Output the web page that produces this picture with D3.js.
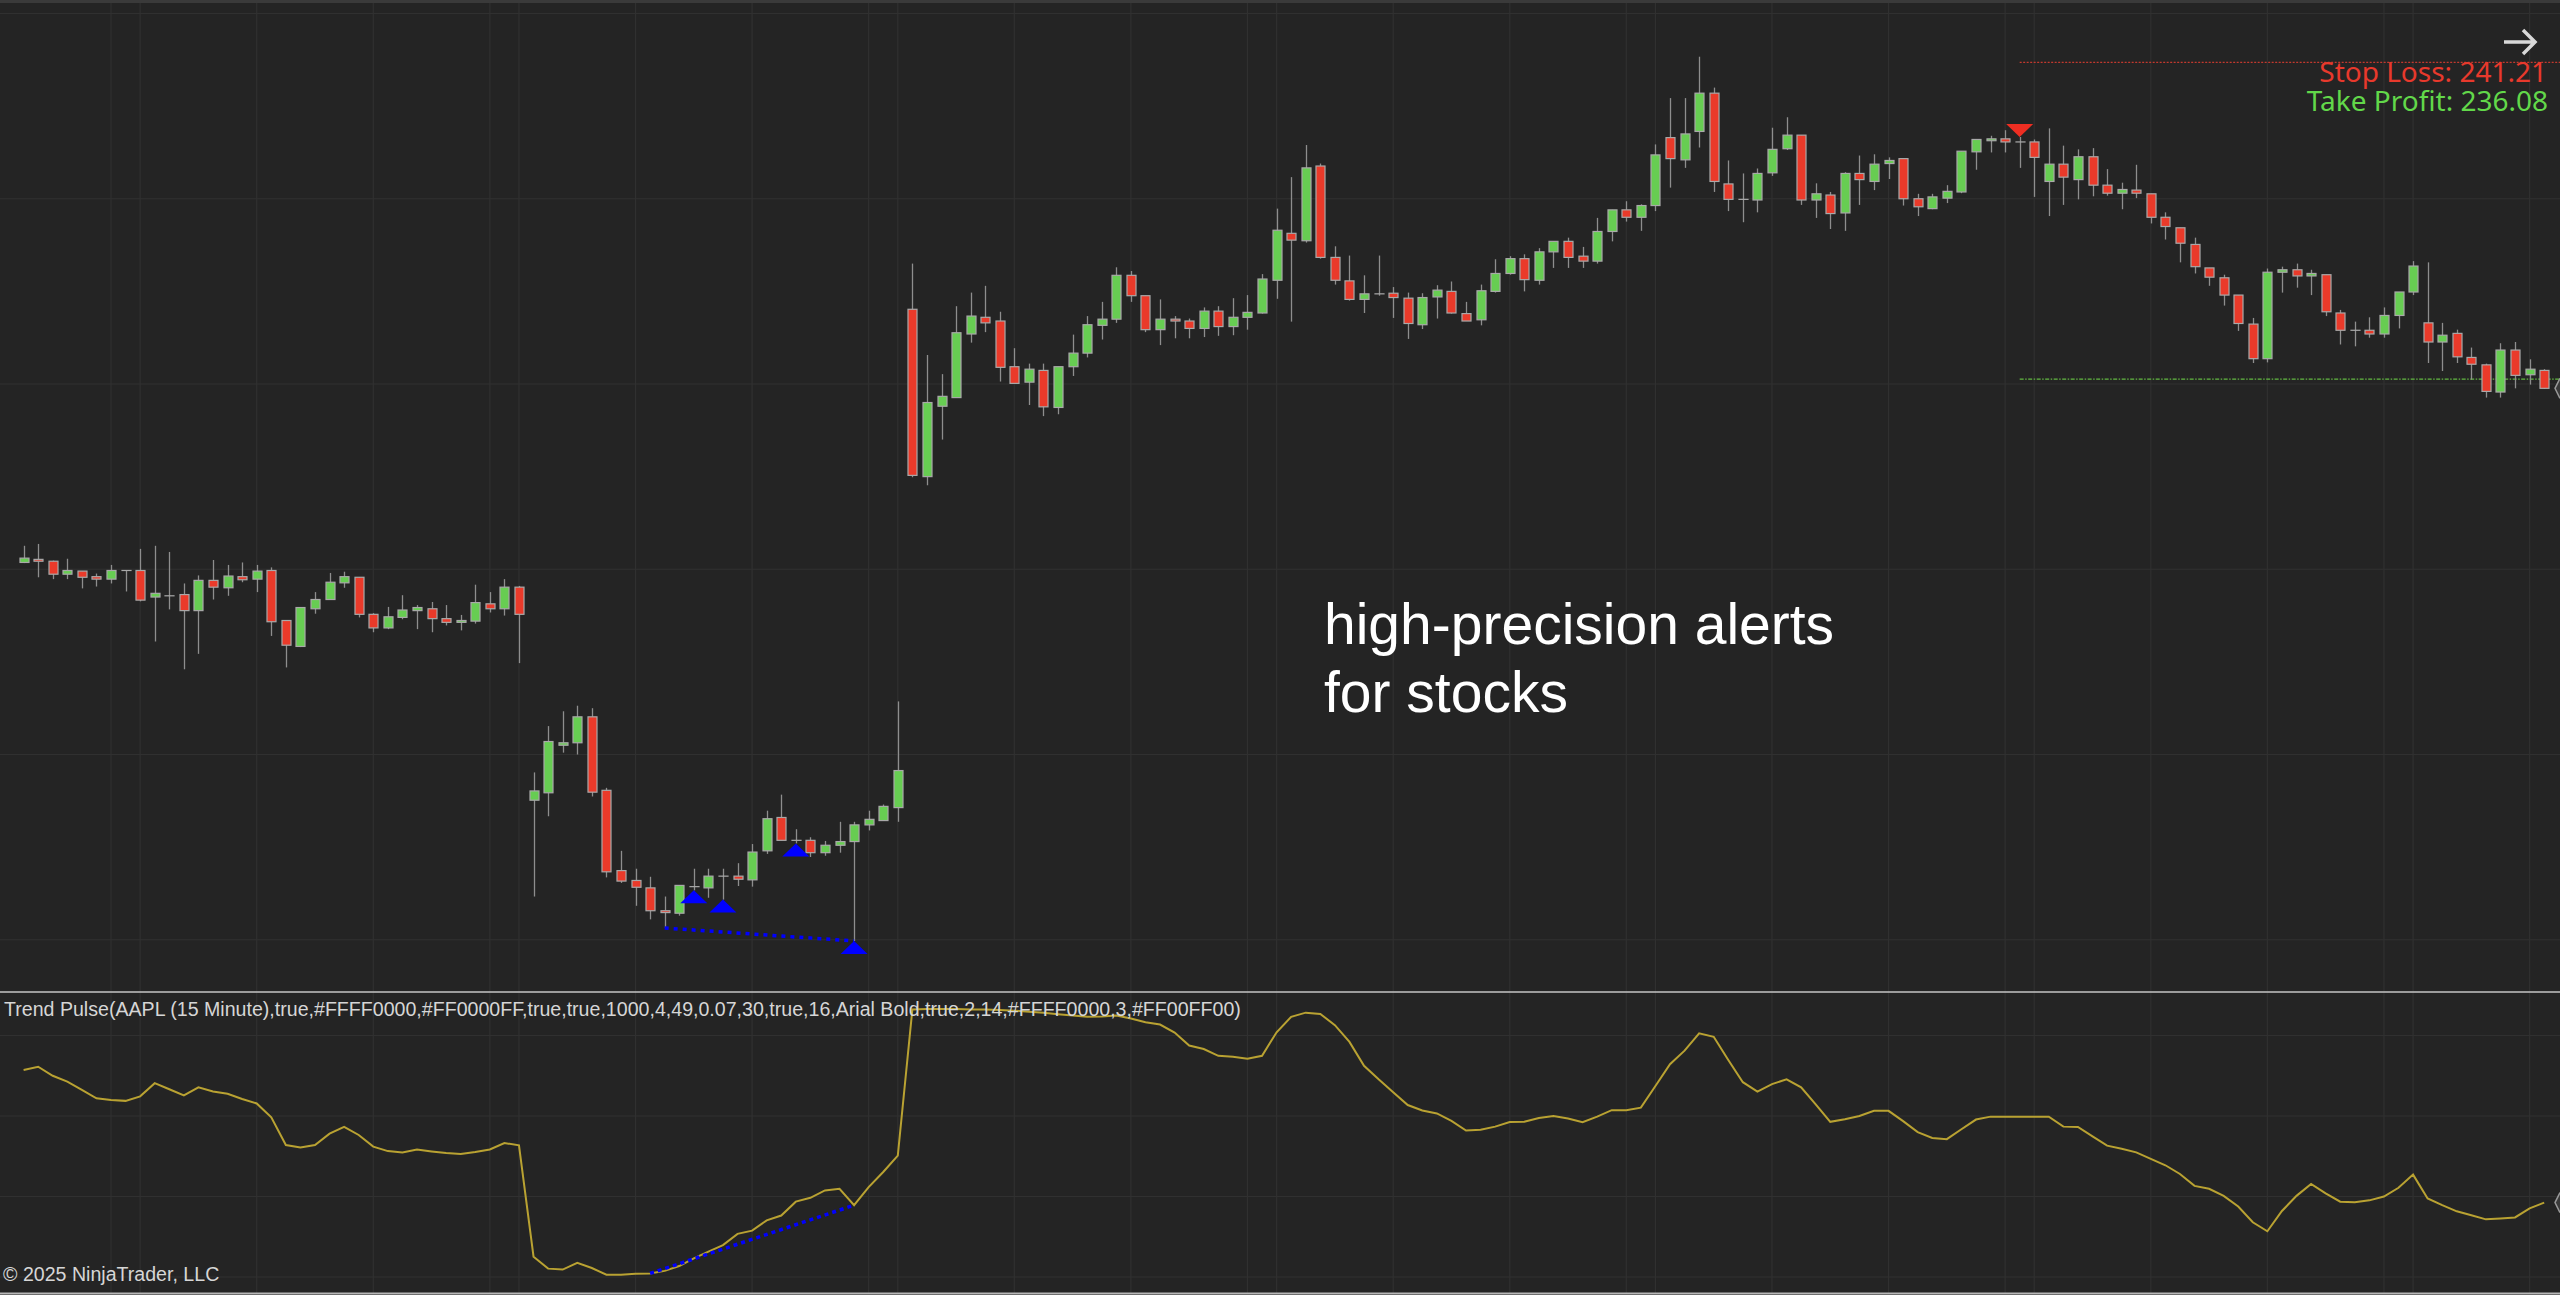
<!DOCTYPE html>
<html><head><meta charset="utf-8">
<script src="https://cdn.jsdelivr.net/npm/d3@7"></script>
<style>html,body{margin:0;padding:0;background:#242424;overflow:hidden}</style>
</head><body>
<svg id="c" width="2560" height="1295"></svg>
<script>
// ---- data (AAPL 15 minute bars) ----
const opens = [233.11,233.16,233.13,232.92,232.97,232.88,232.84,232.98,232.98,232.55,232.57,232.59,232.33,232.82,232.70,232.88,232.84,232.98,232.17,231.75,232.36,232.51,232.78,232.87,232.27,232.05,232.22,232.33,232.36,232.20,232.14,232.16,232.44,232.36,232.71,
229.26,229.38,230.15,230.19,230.61,229.42,228.12,227.96,227.84,227.47,227.43,227.86,227.84,228.03,228.03,227.97,228.44,228.98,228.61,228.61,228.41,228.53,228.59,228.86,228.93,229.14,
237.21,234.50,235.64,235.78,236.81,237.08,237.02,236.28,236.03,236.22,235.62,236.28,236.50,236.95,237.05,237.76,237.43,236.88,237.05,237.02,236.90,237.18,236.93,237.08,237.15,237.68,
238.44,238.32,239.53,238.05,237.67,237.37,237.46,237.47,237.39,236.96,237.41,237.50,237.14,237.04,237.50,237.79,238.03,237.68,238.14,238.31,238.07,237.99,238.47,238.82,238.70,238.89,
239.99,239.63,240.09,240.71,239.24,238.99,238.98,239.42,239.81,240.03,238.98,239.06,238.77,239.41,239.28,239.57,239.65,239.00,238.84,239.01,239.11,239.76,239.94,239.97,239.92,239.92,
239.28,239.56,239.31,239.68,239.22,239.09,239.14,239.08,238.70,238.53,238.26,237.88,237.72,237.44,236.97,236.41,237.81,237.85,237.75,237.77,237.15,236.87,236.87,236.81,237.11,237.49,
236.99,236.68,236.82,236.43,236.31,235.87,236.55,236.15,236.22];
const highs = [233.38,233.41,233.14,233.17,232.97,232.93,233.07,232.98,233.33,233.38,233.28,232.77,232.90,233.15,233.07,233.11,233.07,233.03,232.17,232.38,232.63,232.94,232.96,232.87,232.29,232.39,232.58,232.42,232.47,232.42,232.26,232.75,232.63,232.84,232.73,
229.71,230.46,230.70,230.79,230.75,229.46,228.44,228.15,228.02,227.70,227.88,228.15,228.15,228.15,228.24,228.55,229.09,229.35,228.79,228.66,228.60,228.91,228.91,229.09,229.19,230.86,
237.95,236.47,236.16,237.26,237.48,237.59,237.17,236.58,236.33,236.33,236.28,236.80,237.10,237.33,237.89,237.83,237.43,237.37,237.10,237.06,237.24,237.26,237.39,237.44,237.78,238.84,
239.35,239.87,239.57,238.23,238.08,237.76,238.08,237.57,237.48,237.47,237.60,237.66,237.33,237.61,238.02,238.07,238.10,238.20,238.31,238.37,238.22,238.69,238.82,238.96,238.91,239.88,
240.63,240.63,241.30,240.80,239.62,239.41,239.49,240.15,240.32,240.03,239.25,239.11,239.43,239.70,239.72,239.67,239.65,239.08,239.08,239.22,239.77,239.96,240.02,240.11,240.00,239.96,
240.14,239.86,239.80,239.82,239.48,239.26,239.55,239.08,238.78,238.53,238.37,237.88,237.77,237.44,237.07,237.87,237.90,237.95,237.85,237.77,237.20,237.01,237.08,237.24,237.49,237.99,
237.97,236.99,236.88,236.59,236.33,236.66,236.68,236.40,236.24];
const lows = [233.10,232.87,232.84,232.84,232.69,232.72,232.77,232.64,232.48,231.83,232.35,231.38,231.63,232.51,232.57,232.79,232.63,231.92,231.41,231.74,232.28,232.51,232.70,232.22,231.98,232.03,232.19,232.03,231.98,232.09,232.01,232.12,232.30,232.25,231.48,
227.70,229.00,230.03,230.00,229.32,228.01,227.92,227.55,227.33,227.19,227.39,227.80,227.68,227.65,227.87,227.86,228.39,228.61,228.56,228.34,228.36,228.41,226.98,228.77,228.93,228.91,
234.49,234.36,235.10,235.78,236.67,236.84,236.04,236.01,235.66,235.48,235.51,236.13,236.43,236.72,236.99,237.33,236.84,236.63,236.74,236.74,236.76,236.78,236.79,236.88,237.14,237.38,
237.01,238.29,238.03,237.61,237.35,237.15,237.43,237.07,236.73,236.89,237.06,237.14,237.02,236.95,237.48,237.77,237.50,237.61,237.88,237.88,237.88,237.95,238.31,238.63,238.48,238.80,
239.18,239.50,239.83,239.11,238.80,238.62,238.78,239.37,239.79,238.90,238.69,238.51,238.48,238.90,239.14,239.32,238.89,238.72,238.83,238.93,239.09,239.47,239.75,239.75,239.50,239.03,
238.72,238.90,238.99,239.04,239.05,238.83,239.01,238.60,238.34,237.97,237.79,237.59,237.27,236.86,236.34,236.35,237.48,237.56,237.44,237.10,236.64,236.61,236.75,236.75,236.90,237.44,
236.34,236.21,236.34,236.07,235.78,235.78,235.93,235.99,235.92];
const closes = [233.18,233.13,232.92,232.98,232.87,232.84,232.98,232.98,232.50,232.61,232.57,232.33,232.82,232.71,232.89,232.83,232.97,232.15,231.77,232.38,232.51,232.79,232.88,232.27,232.05,232.23,232.34,232.38,232.20,232.14,232.17,232.46,232.36,232.71,232.27,
229.41,230.21,230.19,230.61,229.39,228.10,227.95,227.85,227.47,227.44,227.88,227.86,228.03,228.03,227.98,228.42,228.96,228.61,228.61,228.41,228.53,228.59,228.86,228.95,229.16,229.74,
234.52,235.70,235.80,236.83,237.10,236.99,236.27,236.01,236.24,235.63,236.28,236.50,236.96,237.05,237.76,237.43,236.88,237.05,237.02,236.90,237.18,236.93,237.08,237.16,237.70,238.49,
238.33,239.50,238.05,237.68,237.37,237.46,237.46,237.40,236.98,237.40,237.52,237.15,237.02,237.51,237.79,238.03,237.69,238.14,238.31,238.05,237.99,238.47,238.82,238.70,238.89,239.71,
239.65,240.05,240.71,239.28,238.99,238.99,239.41,239.80,240.03,238.98,239.08,238.76,239.41,239.31,239.56,239.62,239.00,238.87,239.03,239.12,239.77,239.96,239.97,239.92,239.92,239.67,
239.56,239.35,239.68,239.22,239.09,239.15,239.09,238.70,238.55,238.28,237.90,237.73,237.44,236.98,236.41,237.81,237.85,237.75,237.79,237.17,236.87,236.87,236.81,237.11,237.49,237.91,
236.68,236.79,236.44,236.32,235.88,236.55,236.14,236.24,235.93];
// Trend Pulse oscillator
const pulse = [64.3,65.3,62.5,60.7,58.1,55.5,55.0,54.7,56.1,60.2,58.3,56.4,58.9,57.6,56.9,55.3,53.9,49.6,41.0,40.2,41.0,44.5,46.6,44.1,40.5,39.1,38.7,39.6,39.0,38.5,38.2,38.8,39.6,41.6,40.9,
6.3,2.6,2.3,4.4,2.8,0.7,0.7,1.0,1.1,1.9,3.4,5.8,7.9,9.9,13.4,14.4,17.6,19.1,23.4,24.6,26.9,27.4,22.3,27.9,32.6,37.7,
83.1,83.2,83.2,83.2,83.1,83.1,82.9,82.7,82.4,82.1,81.6,81.2,80.8,80.9,81.2,80.3,79.1,78.4,75.9,71.9,70.8,68.7,68.4,67.8,68.7,76.0,
80.8,82.1,81.7,78.2,73.0,65.6,61.4,57.4,53.4,51.7,50.8,48.5,45.5,45.7,46.7,48.1,48.2,49.4,50.0,49.2,48.1,49.8,51.8,51.8,52.6,59.3,
66.1,70.3,75.7,74.6,67.4,60.5,57.6,59.9,61.4,58.9,53.6,48.2,49.0,50.0,51.6,51.6,48.4,45.0,43.2,42.8,45.9,48.9,49.8,49.8,49.8,49.8,
49.8,46.7,46.6,43.7,40.8,39.8,38.7,36.7,34.7,32.0,28.3,27.4,25.2,21.9,17.0,14.2,20.5,25.2,28.9,26.0,23.4,23.2,23.8,25.0,27.7,31.8,
24.4,22.3,20.4,19.2,17.9,18.2,18.5,21.3,23.1];
const priceTicks = [227,230,233,236,239,242];
const pulseTicks = [0,25,50,75];
const gridBars = [6,8,16,24,32,34,42,50,58,60,68,76,84,86,94,102,110,112,120,128,136,138,146,154,162,164,172];
const buySignals = [46,48,53,57];
const sellSignals = [137];
const priceDivergence = [44,57];
const pulseDivergence = [43,57];
const stopLoss = 241.21, takeProfit = 236.08, levelStartBar = 137;
const labelText = "Trend Pulse(AAPL (15 Minute),true,#FFFF0000,#FF0000FF,true,true,1000,4,49,0.07,30,true,16,Arial Bold,true,2,14,#FFFF0000,3,#FF00FF00)";
const promoLines = ["high-precision alerts","for stocks"];

// ---- drawing ----
const W = 2560, H = 1295;
const svg = d3.select("#c");
const n = opens.length;
const x = d3.scaleLinear().domain([0, 173]).range([23.6, 2544.2]);
const y = d3.scaleLinear().domain([227, 242]).range([939.75, 13.5]);
const yi = d3.scaleLinear().domain([0, 75]).range([1277, 1035.5]);
const mainTop = 3, sep = 992, bottom = 1293;

svg.append("rect").attr("width", W).attr("height", H).attr("fill", "#242424");
svg.append("rect").attr("width", W).attr("height", 3).attr("fill", "#3a3a3a");

const grid = svg.append("g").attr("stroke", "#303030").attr("stroke-width", 1.2);
grid.selectAll(".vg").data(gridBars).join("line")
  .attr("x1", d => x(d)).attr("x2", d => x(d)).attr("y1", mainTop).attr("y2", bottom);
grid.selectAll(".hg").data(priceTicks).join("line").attr("class","hp")
  .attr("x1", 0).attr("x2", W).attr("y1", d => y(d)).attr("y2", d => y(d));
grid.selectAll(".hi").data(pulseTicks).join("line").attr("class","hi2")
  .attr("x1", 0).attr("x2", W).attr("y1", d => yi(d)).attr("y2", d => yi(d));

// stop loss / take profit levels
svg.append("line").attr("x1", x(levelStartBar)).attr("x2", W).attr("y1", y(stopLoss)).attr("y2", y(stopLoss))
  .attr("stroke", "#c2392e").attr("stroke-width", 1.3).attr("stroke-dasharray", "2,1.5");
svg.append("line").attr("x1", x(levelStartBar)).attr("x2", W).attr("y1", y(takeProfit)).attr("y2", y(takeProfit))
  .attr("stroke", "#62b842").attr("stroke-width", 1.3).attr("stroke-dasharray", "4,1.5,1.5,1.5");

// candles
const bars = d3.range(n).map(i => ({i, o: opens[i], h: highs[i], l: lows[i], c: closes[i]}));
const cg = svg.append("g");
cg.selectAll(".wick").data(bars).join("line")
  .attr("x1", d => Math.round(x(d.i)) + 0.5).attr("x2", d => Math.round(x(d.i)) + 0.5)
  .attr("y1", d => y(d.h)).attr("y2", d => y(d.l))
  .attr("stroke", "#8e8e8e").attr("stroke-width", 1.3);
const bw = 9;
cg.selectAll(".body").data(bars).join("rect")
  .attr("x", d => Math.round(x(d.i)) + 0.5 - bw / 2)
  .attr("y", d => y(Math.max(d.o, d.c)))
  .attr("width", bw)
  .attr("height", d => Math.max(0.01, Math.abs(y(d.o) - y(d.c))))
  .attr("fill", d => d.c > d.o ? "#67cd52" : d.c < d.o ? "#ea3a2a" : "#b0b0b0")
  .attr("stroke", "#a9a9a9").attr("stroke-width", 1.2);

// signal triangles
const tw = 27, th = 13;
svg.selectAll(".buy").data(buySignals).join("path")
  .attr("d", i => { const cx = x(i), ty = y(lows[i]); return `M${cx},${ty}L${cx + tw/2},${ty + th}L${cx - tw/2},${ty + th}Z`; })
  .attr("fill", "#0000ff");
svg.selectAll(".sell").data(sellSignals).join("path")
  .attr("d", i => { const cx = x(i), ty = y(highs[i]); return `M${cx},${ty}L${cx + tw/2},${ty - th}L${cx - tw/2},${ty - th}Z`; })
  .attr("fill", "#ee2e22");

// divergence lines
svg.append("line")
  .attr("x1", x(priceDivergence[0])).attr("y1", y(lows[priceDivergence[0]]))
  .attr("x2", x(priceDivergence[1])).attr("y2", y(lows[priceDivergence[1]]))
  .attr("stroke", "#0000ff").attr("stroke-width", 3.5).attr("stroke-dasharray", "4,5");

// current price marker
function marker(yy) {
  svg.append("path").attr("d", `M${W},${yy - 10}L${W - 5},${yy}L${W},${yy + 10}`)
    .attr("fill", "#3a3a3a").attr("stroke", "#9a9a9a").attr("stroke-width", 1.5);
}
marker(y(closes[n - 1]));

// panel separators
svg.append("line").attr("x1", 0).attr("x2", W).attr("y1", sep).attr("y2", sep).attr("stroke", "#c4c4c4").attr("stroke-width", 1.5);
svg.append("line").attr("x1", 0).attr("x2", W).attr("y1", bottom + 0.5).attr("y2", bottom + 0.5).attr("stroke", "#b8b8b8").attr("stroke-width", 2);

// indicator line
const line = d3.line().x((d, i) => x(i)).y(d => yi(d));
svg.append("path").datum(pulse).attr("d", line).attr("fill", "none").attr("stroke", "#b9a232").attr("stroke-width", 2);
svg.append("line")
  .attr("x1", x(pulseDivergence[0])).attr("y1", yi(pulse[pulseDivergence[0]]))
  .attr("x2", x(pulseDivergence[1])).attr("y2", yi(pulse[pulseDivergence[1]]))
  .attr("stroke", "#0000ff").attr("stroke-width", 3.5).attr("stroke-dasharray", "4,4");
marker(yi(pulse[n - 1]));

// texts
svg.append("text").attr("x", 4).attr("y", 1016).attr("fill", "#d6d6d6")
  .attr("font-family", "'Liberation Sans', Arial, sans-serif").attr("font-size", 19.6).text(labelText);
svg.append("text").attr("x", 3).attr("y", 1281).attr("fill", "#d6d6d6")
  .attr("font-family", "'Liberation Sans', Arial, sans-serif").attr("font-size", 19.6).text("© 2025 NinjaTrader, LLC");

svg.selectAll(".promo").data(promoLines).join("text")
  .attr("x", 1324).attr("y", (d, i) => 644 + i * 68)
  .attr("fill", "#ffffff").attr("font-family", "'Liberation Sans', Arial, sans-serif").attr("font-size", 57)
  .text(d => d);

svg.append("text").attr("x", 2547).attr("y", 82).attr("text-anchor", "end")
  .attr("fill", "#e8392c").attr("font-family", "'Noto Sans', 'Open Sans', sans-serif").attr("font-size", 28)
  .text(`Stop Loss: ${stopLoss.toFixed(2)}`);
svg.append("text").attr("x", 2548).attr("y", 111).attr("text-anchor", "end")
  .attr("fill", "#62d84a").attr("font-family", "'Noto Sans', 'Open Sans', sans-serif").attr("font-size", 28)
  .text(`Take Profit: ${takeProfit.toFixed(2)}`);

// navigation arrow
svg.append("path").attr("d", "M2504,42H2534M2523,30L2535,42L2523,54")
  .attr("fill", "none").attr("stroke", "#d8d8d8").attr("stroke-width", 3.5).attr("stroke-linecap", "butt");
</script>
</body></html>
